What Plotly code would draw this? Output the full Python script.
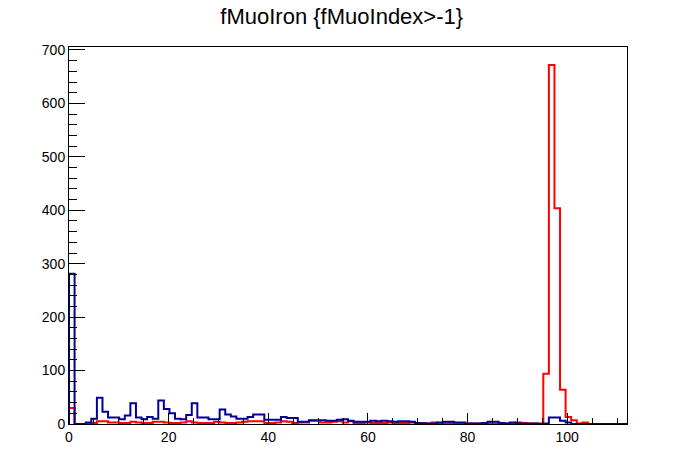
import numpy as np
import plotly.graph_objs as go

# histogram binning: 100 bins over [0, 112]
n_bins = 100
x_min, x_max = 0.0, 112.0

# fMuoIron, blue histogram (all entries)
blue_counts = [
    281, 0, 0, 3, 10, 49, 23, 12, 12, 9,
    16, 39, 12, 9, 13, 10, 44, 28, 20, 10,
    9, 17, 39, 12, 12, 9, 9, 27, 18, 14,
    10, 10, 13, 18, 18, 8, 8, 8, 13, 11,
    11, 4, 4, 7, 7, 7, 6, 6, 8, 9,
    6, 4, 4, 4, 6, 5, 6, 5, 4, 5,
    5, 4, 2, 1, 1, 1, 3, 4, 4, 3,
    3, 1, 1, 1, 2, 4, 4, 2, 1, 3,
    1, 1, 1, 1, 0, 1, 12, 12, 6, 3,
    0, 0, 0, 0, 0, 0, 0, 0, 0, 0,
]

# fMuoIron, red histogram
red_counts = [
    30, 0, 0, 0, 2, 5, 5, 3, 3, 2,
    2, 4, 3, 2, 2, 4, 4, 3, 2, 2,
    3, 5, 3, 2, 2, 2, 4, 3, 2, 2,
    3, 4, 5, 5, 5, 2, 2, 3, 5, 4,
    2, 3, 3, 6, 6, 3, 3, 4, 5, 3,
    5, 2, 2, 3, 2, 2, 2, 3, 2, 2,
    2, 3, 2, 2, 1, 3, 2, 2, 2, 2,
    1, 1, 1, 1, 1, 1, 1, 1, 1, 2,
    3, 2, 1, 1, 1, 94, 672, 404, 64, 13,
    7, 1, 3, 0, 0, 0, 0, 0, 0, 0,
]

title = "fMuoIron {fMuoIndex>-1}"


def step_xy(counts):
    # outline of a histogram, ROOT style: up from 0, across each bin, down at the end
    edges = np.linspace(x_min, x_max, n_bins + 1)
    xs = np.concatenate([[edges[0]], edges])
    ys = np.concatenate([[0], counts, [0]])
    return xs, ys


def main():
    fig = go.Figure()

    xr, yr = step_xy(red_counts)
    fig.add_trace(go.Scatter(x=xr, y=yr, mode="lines", line_shape="hv",
                             line=dict(color="#ff0000", width=2), hoverinfo="skip"))
    xb, yb = step_xy(blue_counts)
    fig.add_trace(go.Scatter(x=xb, y=yb, mode="lines", line_shape="hv",
                             line=dict(color="#000099", width=2), hoverinfo="skip"))

    y_top = 1.05 * max(max(red_counts), max(blue_counts))
    tick_font = dict(family="Liberation Sans, Arial, sans-serif", size=14, color="black")

    fig.update_layout(
        width=696, height=472,
        margin=dict(l=69, r=69, t=47, b=48, autoexpand=False),
        paper_bgcolor="white", plot_bgcolor="white",
        showlegend=False,
        title=dict(text=title, x=0.491, xanchor="center", y=0.965, yanchor="middle",
                   font=dict(family="Liberation Sans, Arial, sans-serif", size=22, color="black")),
    )
    fig.update_xaxes(range=[x_min, x_max], tick0=0, dtick=20, ticks="inside", ticklen=11,
                     tickcolor="black", tickwidth=1, showgrid=False, zeroline=False,
                     showline=True, linecolor="black", linewidth=1, mirror=True,
                     tickfont=tick_font, automargin=False,
                     minor=dict(dtick=5, tick0=0, ticks="inside", ticklen=6,
                                tickcolor="black", showgrid=False))
    fig.update_yaxes(range=[0, y_top], tick0=0, dtick=100, ticks="inside", ticklen=16,
                     tickcolor="black", tickwidth=1, showgrid=False, zeroline=False,
                     showline=True, linecolor="black", linewidth=1, mirror=True,
                     tickfont=tick_font, automargin=False,
                     minor=dict(dtick=20, tick0=0, ticks="inside", ticklen=8,
                                tickcolor="black", showgrid=False))

    # drop the default 8px body margin so the figure fills the window
    fig.write_html("out.html", config={"displayModeBar": False},
                   post_script="document.body.style.margin = '0';")


if __name__ == "__main__":
    main()
